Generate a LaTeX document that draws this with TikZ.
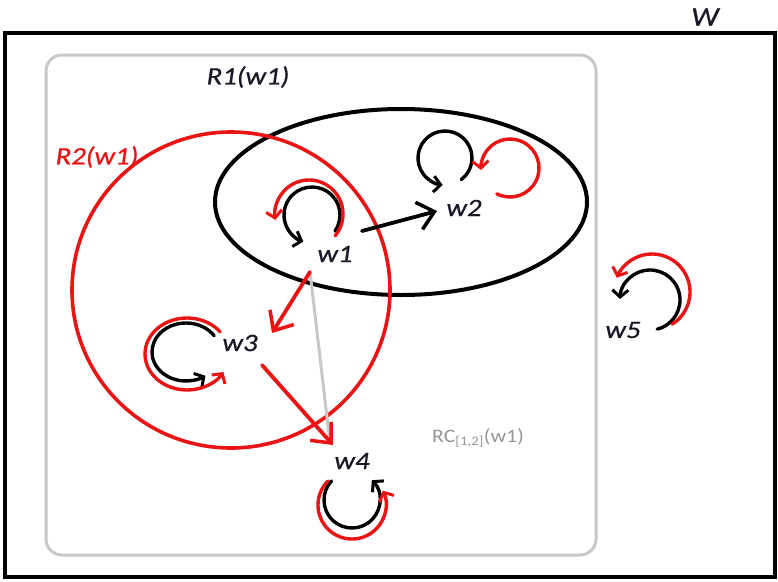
\documentclass[tikz,border=0pt]{standalone}
\usepackage{fontspec}
\setmainfont{Carlito}
\newfontfamily\labfont[FakeStretch=1.15,FakeBold=0.8]{Carlito}
\newfontfamily\rcfont[FakeStretch=1.15]{Carlito}
\usetikzlibrary{arrows.meta,calc}
\definecolor{hred}{RGB}{235,20,20}
\definecolor{boxgray}{RGB}{200,200,200}
\definecolor{txtgray}{RGB}{150,150,150}
\definecolor{ink}{RGB}{25,25,40}
\tikzset{
  every picture/.style={x=1pt,y=-1pt},
  lab/.style={inner sep=0pt,font=\labfont\itshape\fontsize{25}{25}\selectfont,text=ink},
  bigarrow/.style={line width=3.8pt,line cap=round,line join=round,-{Straight Barb[length=16pt,width=28pt,line width=3.5pt]}},
  loopline/.style={line width=3.4pt,line cap=round,line join=round,-{Straight Barb[length=7pt,width=16pt,line width=3pt]}},
  blk/.style={draw=black},
  rd/.style={draw=hred},
}
\begin{document}
\begin{tikzpicture}
\useasboundingbox (0,0) rectangle (778,581);
% frames
\draw[line width=4pt] (5,33) rectangle (775,577);
\node[lab,font=\labfont\itshape\fontsize{27}{27}\selectfont] (Wlab) at (705,17) {W};
\draw[boxgray,line width=3pt,rounded corners=16pt] (46,55) rectangle (596,555);
% regions
\draw[line width=4pt] (401,202) ellipse [x radius=186,y radius=93];
\draw[hred,line width=3.6pt] (231,290) ellipse [x radius=159,y radius=158];
\node[lab] (R1) at (248,77) {R1(w1)};
\node[lab,text=hred] (R2) at (97,157) {R2(w1)};
% worlds
\node[lab] (w1) at (335,254) {w1};
\node[lab] (w2) at (464,208) {w2};
\node[lab] (w3) at (240,343) {w3};
\node[lab] (w4) at (352,461) {w4};
\node[lab] (w5) at (623,330) {w5};
\node[inner sep=0pt,text=txtgray,font=\rcfont\fontsize{19}{19}\selectfont] (RC) at (478,438) {RC$_{\mbox{\fontsize{13}{13}\selectfont[1,2]}}$(w1)};
% connectors
\draw[line width=3pt,draw=boxgray,line cap=round] ($(w1)+(-25,18)$) -- ($(w4)+(-22,-18)$);
\draw[bigarrow,draw=black] ($(w1)+(27,-23)$) -- ($(w2)+(-27,3)$);
\draw[bigarrow,draw=hred] ($(w1)+(-25,18)$) -- ($(w3)+(32,-10)$);
\draw[bigarrow,draw=hred] ($(w3)+(22,22)$) -- ($(w4)+(-19,-16)$);
% loops w1
\draw[loopline,blk] ($(w1)+(-23,-39)+(35:28)$) arc[start angle=35,end angle=-252,radius=28];
\draw[loopline,rd] ($(w1)+(-26,-40)+(40:34)$) arc[start angle=40,end angle=-190,radius=34];
% loops w2
\draw[loopline,blk] ($(w2)+(-19,-50)+(53:27)$) arc[start angle=53,end angle=-265,radius=27];
\draw[loopline,rd] ($(w2)+(46,-40)+(117:29)$) arc[start angle=117,end angle=-184,radius=29];
% loops w3
\draw[loopline,blk] ($(w3)+(-54,9)+(-34:34 and 29)$) arc[start angle=-34,end angle=-305,x radius=34,y radius=29];
\draw[loopline,rd] ($(w3)+(-53,11)+(-38:42 and 36)$) arc[start angle=-38,end angle=-330,x radius=42,y radius=36];
% loops w4
\draw[loopline,blk] ($(w4)+(0,39)+(223:28)$) arc[start angle=223,end angle=-45,radius=28];
\draw[loopline,rd] ($(w4)+(0,44)+(225:34)$) arc[start angle=225,end angle=-25,radius=34];
% loops w5
\draw[loopline,blk] ($(w5)+(27,-30)+(76:30)$) arc[start angle=76,end angle=-178,radius=30];
\draw[loopline,rd] ($(w5)+(29,-38)+(58:38)$) arc[start angle=58,end angle=-158,radius=38];
\end{tikzpicture}
\end{document}
